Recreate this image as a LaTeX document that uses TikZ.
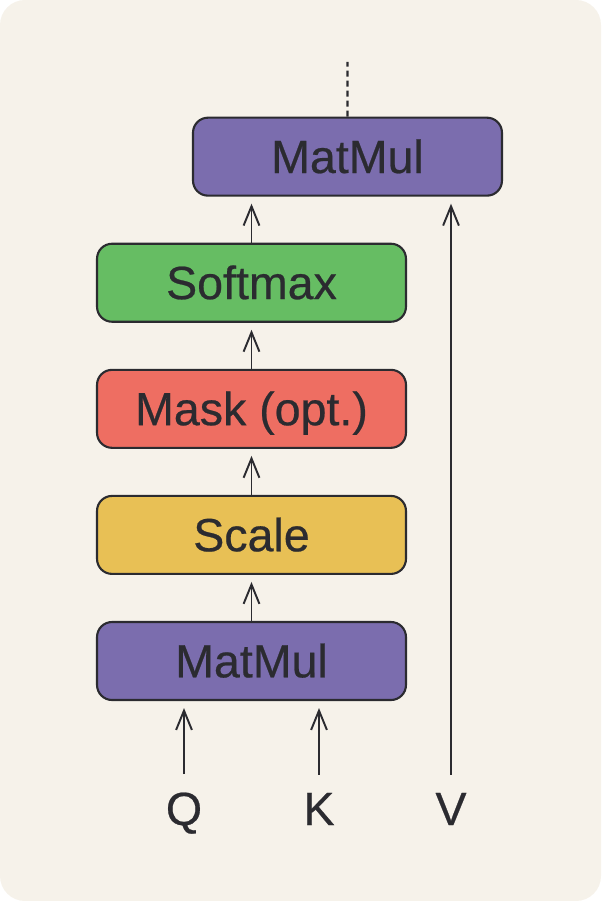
\documentclass[tikz,border=0pt]{standalone}
\usepackage{fontspec}
\setmainfont{Liberation Sans}
\newfontfamily\labelfont{Liberation Sans}[FakeBold=0.5]
\usetikzlibrary{positioning,arrows.meta}
\definecolor{paper}{HTML}{F6F2EA}
\definecolor{ink}{HTML}{2B2B30}
\definecolor{matmulfill}{HTML}{7B6DAE}
\definecolor{softmaxfill}{HTML}{66BD63}
\definecolor{maskfill}{HTML}{EE6E62}
\definecolor{scalefill}{HTML}{E8C055}

\begin{document}
\begin{tikzpicture}[
                x=0.02cm, y=-0.02cm,
                node distance=0.92cm,
                block/.style={draw=ink, line width=1.2pt, rounded corners=0.3cm, minimum width=6.18cm, minimum height=1.56cm, inner sep=0pt, text=ink, text height=18.6pt, text depth=0pt, font=\labelfont\fontsize{26.5}{30}\selectfont},
                letter/.style={inner sep=0pt, anchor=base, text=ink, font=\labelfont\fontsize{26.5}{30}\selectfont},
                flow/.style={draw=ink, line width=1.1pt, -{Straight Barb[length=11pt,width=9pt]}, shorten >=0.14cm}
                ]
                \useasboundingbox (0,0) rectangle (601,901);
                \fill[paper, rounded corners=0.5cm] (0,0) rectangle (601,901);
                \node[block, fill=matmulfill] (mmlow) at (251.5,661) {MatMul};
                \node[block, fill=scalefill, above=of mmlow] (scale) {Scale};
                \node[block, fill=maskfill, above=of scale] (mask) {Mask (opt.)};
                \node[block, fill=softmaxfill, above=of mask] (softmax) {Softmax};
                \node[block, fill=matmulfill, above=of softmax, xshift=1.92cm] (mmtop) {MatMul};
                \node[letter] (q) at (184,825) {Q};
                \node[letter] (k) at (319,825) {K};
                \node[letter] (v) at (451,825) {V};
                \coordinate (out) at (347.5,62);
                \draw[flow, shorten <=0.36cm] (q.north) -- (q.north |- mmlow.south);
                \draw[flow, shorten <=0.36cm] (k.north) -- (k.north |- mmlow.south);
                \draw[flow, shorten <=0.36cm] (v.north) -- (v.north |- mmtop.south);
                \draw[flow] (mmlow) -- (scale);
                \draw[flow] (scale.north) -- (mask.south);
                \draw[flow] (mask.north) -- (softmax.south);
                \draw[flow] (softmax.north) -- (softmax.north |- mmtop.south);
                \draw[ink, line width=1.2pt, dash pattern=on 3.4pt off 2.3pt] (mmtop.north) -- (out);
\end{tikzpicture}
\end{document}
